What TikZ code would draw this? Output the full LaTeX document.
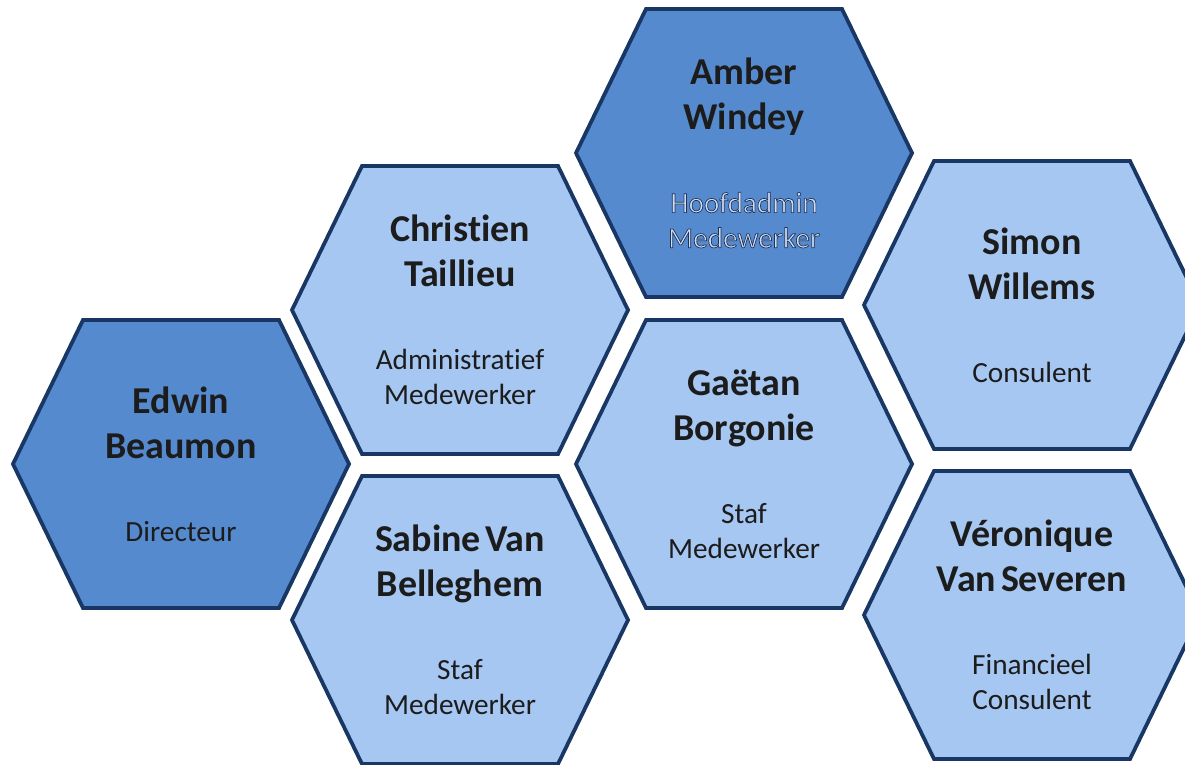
\documentclass[tikz,border=0pt]{standalone}
\usepackage{fontspec}
\setmainfont{Carlito}[Ligatures=NoCommon]

\definecolor{celdaoscura}{RGB}{86,138,207}
\definecolor{celdaclara}{RGB}{166,199,242}
\definecolor{borde}{RGB}{25,55,100}
\definecolor{texto}{RGB}{28,28,28}
\definecolor{textoclaro}{RGB}{208,220,240}

\newcommand{\nombre}{\fontsize{27pt}{32pt}\selectfont\bfseries}
\newcommand{\cargo}{\fontsize{20.8pt}{25pt}\selectfont}
\newcommand{\ficha}[2]{{\nombre\noindent#1\par}\vspace{34pt}{\cargo\noindent#2\par}}
\newcommand{\relieve}{\color{textoclaro}\special{pdf:literal direct 0.11 0.2 0.36 RG 0.5 w 2 Tr}}
\newcommand{\hexa}{++(-4.2,0) -- ++(1.75,3.6) -- ++(4.9,0) -- ++(1.75,-3.6) -- ++(-1.75,-3.6) -- ++(-4.9,0) -- cycle}

\begin{document}
\begin{tikzpicture}[
  celda/.style={draw=borde, line width=2.7pt},
  oscura/.style={celda, fill=celdaoscura},
  clara/.style={celda, fill=celdaclara},
  info/.style={text width=7.4cm, align=center, text=texto, inner sep=0pt}
]
  % Marco de la imagen
  \useasboundingbox (0,0) rectangle (29.625,19.1);
  \clip (0,0) rectangle (29.625,19.1);

  % Centros de las celdas
  \coordinate (edwin) at (4.525,7.5);
  \coordinate (christien) at (11.5,11.35);
  \coordinate (sabine) at (11.5,3.6);
  \coordinate (amber) at (18.6,15.275);
  \coordinate (gaetan) at (18.6,7.5);
  \coordinate (simon) at (25.8,11.475);
  \coordinate (veronique) at (25.8,3.725);

  % Directeur
  \draw[oscura] (edwin) \hexa;
  \node[info] (edwin-txt) at (edwin) {\ficha{Edwin\\Beaumon}{Directeur}};

  % Administratief medewerker
  \draw[clara] (christien) \hexa;
  \node[info] (christien-txt) at (christien) {\ficha{Christien\\Taillieu}{Administratief\\Medewerker}};

  % Staf medewerker (onder)
  \draw[clara] (sabine) \hexa;
  \node[info] (sabine-txt) at (sabine) {\ficha{Sabine Van\\Belleghem}{Staf\\Medewerker}};

  % Hoofdadmin
  \draw[oscura] (amber) \hexa;
  \node[info] (amber-txt) at (amber) {\ficha{Amber\\Windey}{\relieve Hoofdadmin\\Medewerker\special{pdf:literal direct 0 Tr}}};

  % Staf medewerker (midden)
  \draw[clara] (gaetan) \hexa;
  \node[info] (gaetan-txt) at (gaetan) {\ficha{Gaëtan\\Borgonie}{Staf\\Medewerker}};

  % Consulent
  \draw[clara] (simon) \hexa;
  \node[info] (simon-txt) at (simon) {\ficha{Simon\\Willems}{Consulent}};

  % Financieel consulent
  \draw[clara] (veronique) \hexa;
  \node[info] (veronique-txt) at (veronique) {\ficha{Véronique\\Van Severen}{Financieel\\Consulent}};
\end{tikzpicture}
\end{document}
